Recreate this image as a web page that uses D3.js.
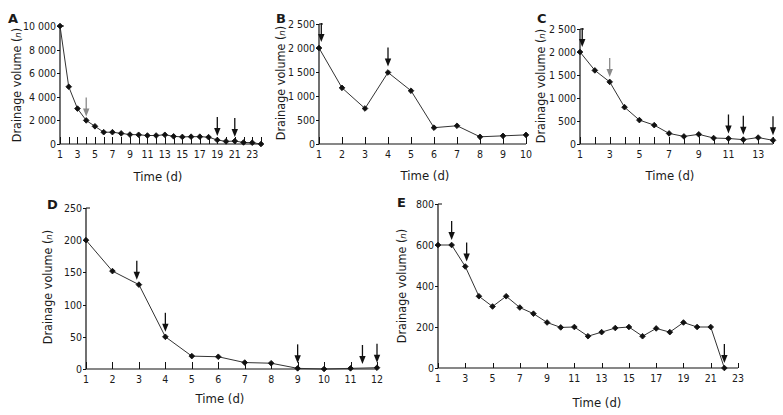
<!DOCTYPE html>
<html><head><meta charset="utf-8">
<script src="https://cdn.jsdelivr.net/npm/d3@7"></script>
<style>
body{margin:0;background:#fff}
text{font-family:"DejaVu Sans Condensed","DejaVu Sans",sans-serif;fill:#1a1a1a}
</style>
</head><body>
<svg id="c" width="783" height="415"></svg>
<script>
// ---------- DATA ----------
const daysA   = [1,2,3,4,5,6,7,8,9,10,11,12,13,14,15,16,17,18,19,20,21,22,23,24];
const valuesA = [10000,4850,3000,2000,1500,1000,1000,900,800,780,720,720,780,650,600,620,620,580,340,220,250,130,110,0];
const arrowDaysA = [4,19,21];
const arrowValsA = [2000,340,250];
const arrowGrayA = [true,false,false];
const yTicksA = [0,2000,4000,6000,8000,10000];
const xTickMarksA = [1,2,3,4,5,6,7,8,9,10,11,12,13,14,15,16,17,18,19,20,21,22,23,24];
const xLabelsA = [1,3,5,7,9,11,13,15,17,19,21,23];

const daysB   = [1,2,3,4,5,6,7,8,9,10];
const valuesB = [2000,1170,740,1490,1110,340,380,150,170,190];
const arrowDaysB = [1.1,4];
const arrowValsB = [2000,1490];
const arrowGrayB = [false,false];
const yTicksB = [0,500,1000,1500,2000,2500];
const xTickMarksB = [1,2,3,4,5,6,7,8,9,10];
const xLabelsB = [1,2,3,4,5,6,7,8,9,10];

const daysC   = [1,2,3,4,5,6,7,8,9,10,11,12,13,14];
const valuesC = [2000,1600,1350,800,520,410,230,165,210,130,120,95,140,80];
const arrowDaysC = [1.15,3,11,12,14];
const arrowValsC = [2000,1350,120,95,80];
const arrowGrayC = [false,true,false,false,false];
const yTicksC = [0,500,1000,1500,2000,2500];
const xTickMarksC = [1,2,3,4,5,6,7,8,9,10,11,12,13,14];
const xLabelsC = [1,3,5,7,9,11,13];

const daysD   = [1,2,3,4,5,6,7,8,9,10,11,12];
const valuesD = [200,152,131,50,20,19,10,9,1,0,1,2];
const arrowDaysD = [2.92,4,9,11.45,12];
const arrowValsD = [131,50,1,0,2];
const arrowGrayD = [false,false,false,false,false];
const yTicksD = [0,50,100,150,200,250];
const xTickMarksD = [1,2,3,4,5,6,7,8,9,10,11,12];
const xLabelsD = [1,2,3,4,5,6,7,8,9,10,11,12];

const daysE   = [1,2,3,4,5,6,7,8,9,10,11,12,13,14,15,16,17,18,19,20,21,22];
const valuesE = [600,600,495,350,300,350,295,265,222,198,200,155,175,195,200,155,193,175,222,200,200,0];
const arrowDaysE = [2,3.1,22];
const arrowValsE = [600,495,0];
const arrowGrayE = [false,false,false];
const yTicksE = [0,200,400,600,800];
const xTickMarksE = [1,3,5,7,9,11,13,15,17,19,21,23];
const xLabelsE = [1,3,5,7,9,11,13,15,17,19,21,23];

// ---------- LAYOUT ----------
const panels = [
  {letter:"A", days:daysA, values:valuesA, aD:arrowDaysA, aV:arrowValsA, aG:arrowGrayA,
   yTicks:yTicksA, xMarks:xTickMarksA, xLabels:xLabelsA, xDom:[1,24], yDom:[0,10000],
   x0:60, x1:261, yb:144, yt:26, tickUp:7, letterXY:[8,23], yTitleXY:[21,85], xTitleXY:[158,181], gap:4},
  {letter:"B", days:daysB, values:valuesB, aD:arrowDaysB, aV:arrowValsB, aG:arrowGrayB,
   yTicks:yTicksB, xMarks:xTickMarksB, xLabels:xLabelsB, xDom:[1,10], yDom:[0,2500],
   x0:319, x1:526, yb:144, yt:24, tickUp:7, letterXY:[276,23], yTitleXY:[285,83], xTitleXY:[425,180], gap:6},
  {letter:"C", days:daysC, values:valuesC, aD:arrowDaysC, aV:arrowValsC, aG:arrowGrayC,
   yTicks:yTicksC, xMarks:xTickMarksC, xLabels:xLabelsC, xDom:[1,14], yDom:[0,2500],
   x0:580, x1:773, yb:144, yt:29, tickUp:7, letterXY:[537,23], yTitleXY:[545,86], xTitleXY:[670,180], gap:5},
  {letter:"D", days:daysD, values:valuesD, aD:arrowDaysD, aV:arrowValsD, aG:arrowGrayD,
   yTicks:yTicksD, xMarks:xTickMarksD, xLabels:xLabelsD, xDom:[1,12], yDom:[0,250],
   x0:86, x1:377, yb:369, yt:208, tickUp:7, letterXY:[47,209], yTitleXY:[52,287], xTitleXY:[220,403], gap:5},
  {letter:"E", days:daysE, values:valuesE, aD:arrowDaysE, aV:arrowValsE, aG:arrowGrayE,
   yTicks:yTicksE, xMarks:xTickMarksE, xLabels:xLabelsE, xDom:[1,23], yDom:[0,800],
   x0:438, x1:738, yb:368, yt:204, tickUp:5, letterXY:[397,207], yTitleXY:[406,286], xTitleXY:[597,407], gap:5}
];

const svg = d3.select("#c");
const fmt = v => v >= 1000 ? d3.format(",")(v).replace(/,/g, " ") : String(v);
const lineCol = "#333", axisCol = "#111";

panels.forEach(p => {
  const x = d3.scaleLinear().domain(p.xDom).range([p.x0, p.x1]);
  const y = d3.scaleLinear().domain(p.yDom).range([p.yb, p.yt]);
  const g = svg.append("g");

  g.append("line").attr("x1", p.x0).attr("x2", p.x0).attr("y1", p.yb).attr("y2", p.yt)
    .attr("stroke", axisCol).attr("stroke-width", 1.2);
  g.append("line").attr("x1", p.x0).attr("x2", p.x1).attr("y1", p.yb).attr("y2", p.yb)
    .attr("stroke", axisCol).attr("stroke-width", 1.2);

  p.yTicks.forEach(t => {
    const yy = Math.round(y(t)) + 0.5;
    g.append("line").attr("x1", p.x0 - 3).attr("x2", p.x0).attr("y1", yy).attr("y2", yy)
      .attr("stroke", axisCol);
    g.append("text").attr("x", p.x0 - 4).attr("y", yy).attr("dy", "0.35em")
      .attr("text-anchor", "end").attr("font-size", 10.5).text(fmt(t));
  });
  g.append("line").attr("x1", p.x0).attr("x2", p.x0 + 4).attr("y1", y(p.yDom[1])).attr("y2", y(p.yDom[1]))
    .attr("stroke", axisCol);

  p.xMarks.forEach(t => {
    const xx = Math.round(x(t)) + 0.5;
    g.append("line").attr("x1", xx).attr("x2", xx).attr("y1", p.yb).attr("y2", p.yb - p.tickUp)
      .attr("stroke", axisCol);
  });
  p.xLabels.forEach(t => {
    g.append("text").attr("x", x(t)).attr("y", p.yb + 14)
      .attr("text-anchor", "middle").attr("font-size", 10.5).text(t);
  });

  const pts = p.days.map((d, i) => [d, p.values[i]]);
  g.append("path").datum(pts)
    .attr("d", d3.line().x(d => x(d[0])).y(d => y(d[1])))
    .attr("fill", "none").attr("stroke", lineCol).attr("stroke-width", 1);
  g.selectAll(".m").data(pts).enter().append("path")
    .attr("transform", d => `translate(${x(d[0])},${y(d[1])}) rotate(45)`)
    .attr("d", d3.symbol().type(d3.symbolSquare).size(16))
    .attr("fill", "#111").attr("stroke", "#111").attr("stroke-width", 0.8)
    .attr("stroke-linejoin", "round");

  p.aD.forEach((d, i) => {
    const col = p.aG[i] ? "#8a8a8a" : "#111";
    const tipY = y(p.aV[i]) - p.gap;
    const xx = x(d);
    g.append("line").attr("x1", xx).attr("x2", xx).attr("y1", tipY - 19).attr("y2", tipY - 6)
      .attr("stroke", col).attr("stroke-width", 1.3);
    g.append("path").attr("d", `M${xx - 3.2},${tipY - 8} L${xx + 3.2},${tipY - 8} L${xx},${tipY} Z`)
      .attr("fill", col);
  });

  g.append("text").attr("x", p.letterXY[0]).attr("y", p.letterXY[1])
    .attr("font-size", 13).attr("font-weight", "bold")
    .style("font-family", "'DejaVu Sans',sans-serif").text(p.letter);
  const yt = g.append("text")
    .attr("transform", `translate(${p.yTitleXY[0]},${p.yTitleXY[1]}) rotate(-90)`)
    .attr("text-anchor", "middle").attr("font-size", 12.5);
  yt.append("tspan").text("Drainage volume (");
  yt.append("tspan").attr("font-style", "italic").attr("font-size", 9.5).text("n");
  yt.append("tspan").text(")");
  g.append("text").attr("x", p.xTitleXY[0]).attr("y", p.xTitleXY[1])
    .attr("text-anchor", "middle").attr("font-size", 13).text("Time (d)");
});
</script>
</body></html>
